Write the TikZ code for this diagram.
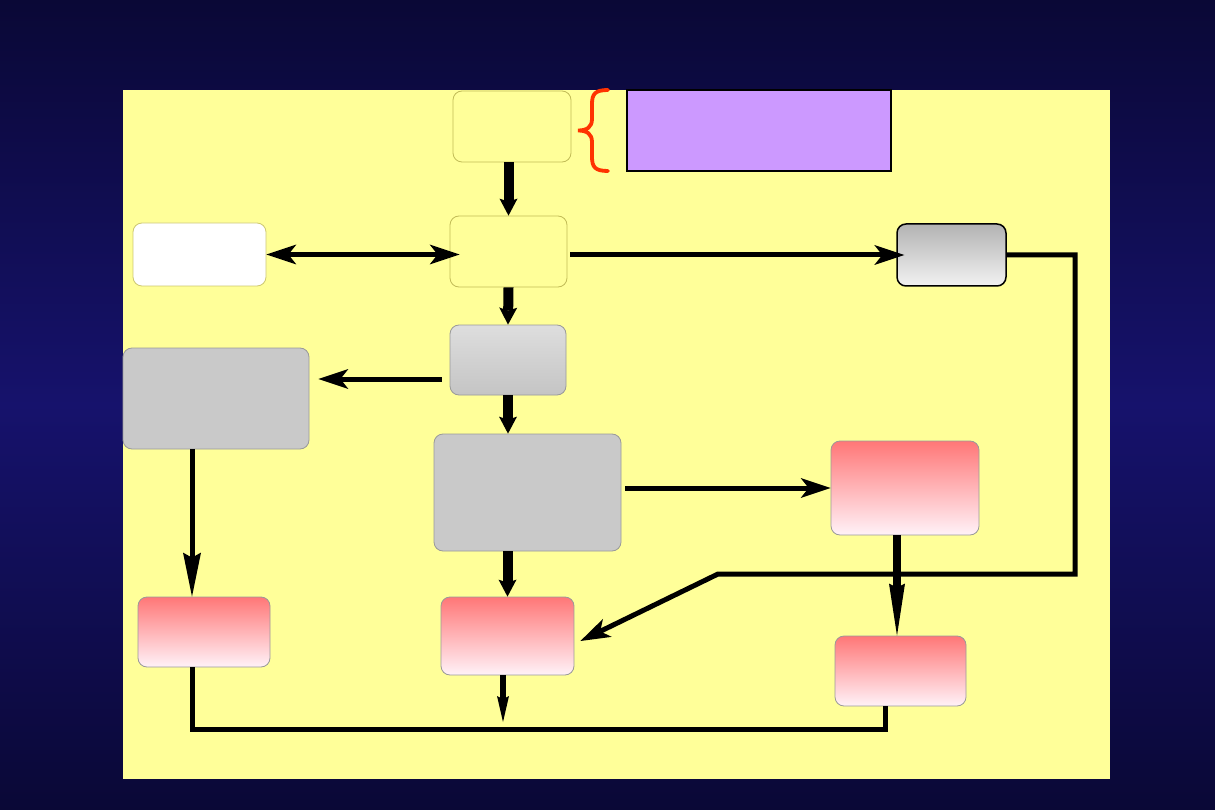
\documentclass[tikz,border=0pt]{standalone}
\usetikzlibrary{arrows.meta, calc}

\definecolor{navy}{HTML}{0A0836}
\definecolor{navymid}{HTML}{16126C}
\definecolor{panel}{HTML}{FFFF99}
\definecolor{lilac}{HTML}{CC99FF}
\definecolor{rosetop}{HTML}{FF7777}
\definecolor{rosebot}{HTML}{FFF2F8}
\definecolor{brace}{HTML}{FF3300}

\tikzset{
    wide/.tip={Stealth[length=30pt, width=20pt, inset=8pt, line width=0pt]},
    stub/.tip={Stealth[length=17pt, width=18pt, inset=3pt, line width=0pt]},
    spike/.tip={Stealth[length=44pt, width=18pt, inset=5pt, line width=0pt]}
}

\begin{document}
\begin{tikzpicture}[
    x=1pt, y=-1pt,
    block/.style={rectangle, draw=gray!80, line width=0.8pt, rounded corners=9pt, inner sep=0pt},
    paleblock/.style={block, fill=panel, draw=olive!55},
    greyblock/.style={block, fill=black!21},
    pinkblock/.style={block, top color=rosetop, bottom color=rosebot},
    line/.style={draw, line width=5pt, -wide},
    heavy/.style={draw, line width=10pt, -stub},
    wire/.style={draw, line width=5pt, line join=miter}
]

% backdrop and panel
\shade[top color=navy, bottom color=navy, middle color=navymid] (0,0) rectangle (1215,810);
\fill[panel] (123,90) rectangle (1110,779);

\node [paleblock, minimum width=118pt, minimum height=71pt] (source) at (512,126.5) {};
\node [rectangle, draw, line width=1.8pt, fill=lilac, minimum width=264pt, minimum height=81pt] (note) at (759,130.5) {};
\node [paleblock, minimum width=117pt, minimum height=71pt] (hub) at (508.5,251.5) {};
\node [block, fill=white, draw=olive!45, minimum width=133pt, minimum height=63pt] (side) at (199.5,254.5) {};
\node [block, draw=black, line width=1.5pt, top color=black!30, bottom color=black!5, minimum width=109pt, minimum height=62pt] (gate) at (951.5,255) {};
\node [block, top color=black!13, bottom color=black!23, minimum width=116pt, minimum height=70pt] (filter) at (508,360) {};
\node [greyblock, minimum width=186pt, minimum height=101pt] (pool) at (216,398.5) {};
\node [greyblock, minimum width=187pt, minimum height=117pt] (engine) at (527.5,492.5) {};
\node [pinkblock, minimum width=148pt, minimum height=94pt] (alertR) at (905,488) {};
\node [pinkblock, minimum width=132pt, minimum height=70pt] (alertL) at (204,632) {};
\node [pinkblock, minimum width=133pt, minimum height=78pt] (alertM) at (507.5,636) {};
\node [pinkblock, minimum width=131pt, minimum height=70pt] (alertB) at (900.5,671) {};

\coordinate (turnA) at (1075,255);
\coordinate (turnB) at (1075,574);
\coordinate (turnC) at (718,574);
\coordinate (exit) at (503,722);

% brace next to the source box
\draw[brace, line width=3.8pt, line cap=round]
    (608,90) .. controls (595,90) and (592,94) .. (592,104) -- (592,119)
    .. controls (592,127) and (587,130.5) .. (578,130.5)
    .. controls (587,130.5) and (592,134) .. (592,142) -- (592,157)
    .. controls (592,167) and (595,171) .. (608,171);

\path [heavy] (source.south -| hub) -- (hub.north);
\path [draw, line width=5pt, wide-wide] (side.east) -- ($(hub.west |- side.east)+(10,0)$);
\path [line] ([shift={(3,3.5)}]hub.east) -- ([xshift=8pt]gate.west);
\path [heavy] (hub.south) -- (filter.north);
\path [line] ([shift={(-8,19)}]filter.west) -- ([shift={(9,-19.5)}]pool.east);
\path [heavy] (filter.south) -- (filter.south |- engine.north);
\path [line] ([shift={(4,-4.5)}]engine.east) -- (alertR.west);
\path [heavy] (engine.south -| alertM) -- (alertM.north);
\path [draw, line width=5pt, -spike] ($(pool.south)+(-24,0)$) -- ($(alertL.north)+(-12,0)$);
\path [draw, line width=8pt, -{Stealth[length=52pt, width=16pt, inset=4pt, line width=0pt]}] ($(alertR.south)+(-8,0)$) -- ($(alertB.north)+(-3.5,0)$);
\path [draw, line width=6pt, -{Stealth[length=26pt, width=12pt, inset=3pt, line width=0pt]}] ($(alertM.south)+(-4.5,0)$) -- (exit);
\path [line, line join=miter] (gate.east) -- (turnA) -- (turnB) -- (turnC) -- ([shift={(6,5)}]alertM.east);
\path [wire] ($(alertL.south)+(-12,0)$) |- ($(alertB.south)+(-15.5,23)$) -- ($(alertB.south)+(-15.5,0)$);

\end{tikzpicture}
\end{document}
